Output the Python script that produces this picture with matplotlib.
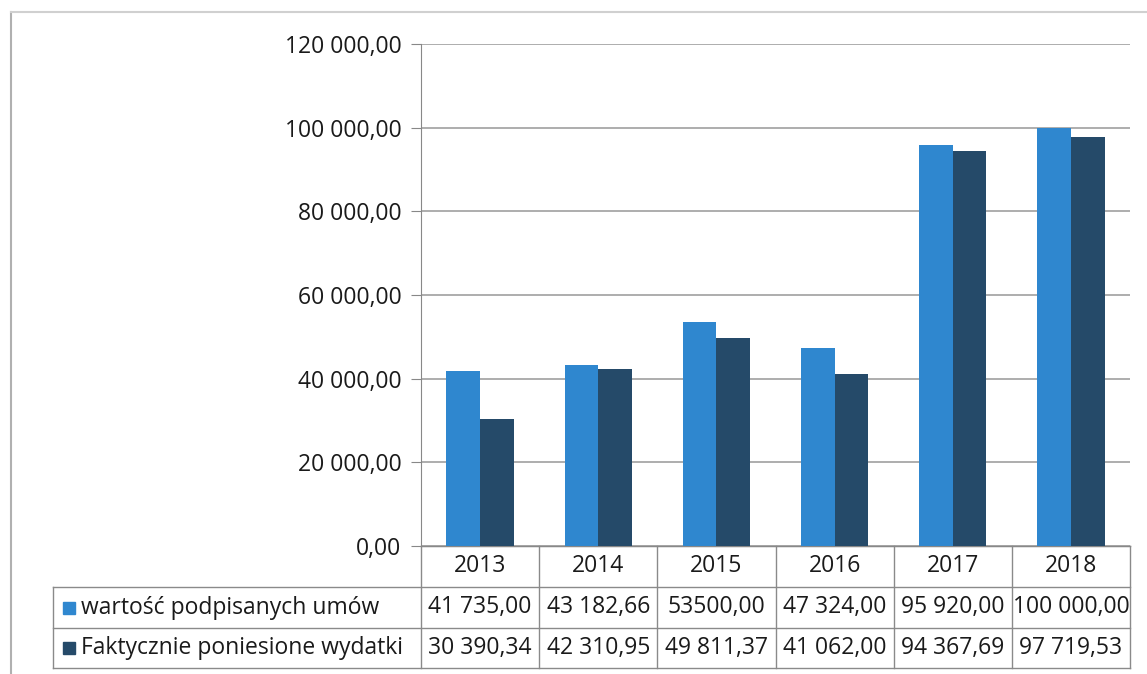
import matplotlib
matplotlib.use("Agg")
import matplotlib.pyplot as plt
from matplotlib.patches import Rectangle
from matplotlib.lines import Line2D

years = ["2013", "2014", "2015", "2016", "2017", "2018"]
signed = [41735.00, 43182.66, 53500.00, 47324.00, 95920.00, 100000.00]
spent = [30390.34, 42310.95, 49811.37, 41062.00, 94367.69, 97719.53]
signed_labels = ["41 735,00", "43 182,66", "53500,00", "47 324,00", "95 920,00", "100 000,00"]
spent_labels = ["30 390,34", "42 310,95", "49 811,37", "41 062,00", "94 367,69", "97 719,53"]
series_names = ["wartość podpisanych umów", "Faktycznie poniesione wydatki"]
yticks = [0, 20000, 40000, 60000, 80000, 100000, 120000]
ytick_labels = ["0,00", "20 000,00", "40 000,00", "60 000,00", "80 000,00", "100 000,00", "120 000,00"]

c_blue = "#2f87cf"
c_dark = "#254a69"
grid_c = "#a0a0a0"
txt_c = "#1a1a1a"
font = ["Open Sans", "DejaVu Sans"]
plt.rcParams['font.family'] = font

W, H = 1147, 674
fig = plt.figure(figsize=(W / 100, H / 100), dpi=100)
x0, x1, ytop, ybot = 421, 1130, 44, 546
ax = fig.add_axes([x0 / W, 1 - ybot / H, (x1 - x0) / W, (ybot - ytop) / H])

n = len(years)
bw = 0.285
xs = list(range(n))
ax.bar([x - bw / 2 for x in xs], signed, width=bw, color=c_blue, zorder=3)
ax.bar([x + bw / 2 for x in xs], spent, width=bw, color=c_dark, zorder=3)

ax.set_xlim(-0.5, n - 0.5)
ax.set_ylim(0, 120000)
ax.set_yticks(yticks)
ax.set_yticklabels(ytick_labels, fontsize=16.5, color=txt_c)
ax.set_xticks([])
ax.yaxis.grid(True, color=grid_c, linewidth=1.2, zorder=0)
ax.set_axisbelow(True)
for s in ["top", "right"]:
    ax.spines[s].set_visible(False)
ax.spines["left"].set_color("#888888")
ax.spines["bottom"].set_color("#888888")
ax.tick_params(axis="y", length=7, color="#888888", pad=7)

ah = ybot - ytop
aw = x1 - x0
rows_px = [546, 587, 628, 668]
def fy(py):
    return (ybot - py) / ah
def fx(px):
    return (px - x0) / aw

lc = "#8a8a8a"
lw = 1.0
tr = ax.transAxes
ax.add_line(Line2D([fx(x0), fx(x1)], [fy(rows_px[0])] * 2, transform=tr, color=lc, lw=lw, clip_on=False))
for r in rows_px[1:]:
    ax.add_line(Line2D([fx(53), fx(x1)], [fy(r)] * 2, transform=tr, color=lc, lw=lw, clip_on=False))
ax.add_line(Line2D([fx(53), fx(53)], [fy(rows_px[1]), fy(rows_px[3])], transform=tr, color=lc, lw=lw, clip_on=False))
for i in range(n + 1):
    xf = i / n
    ax.add_line(Line2D([xf, xf], [fy(rows_px[0]), fy(rows_px[3])], transform=tr, color=lc, lw=lw, clip_on=False))

fs = 16.5
for i, yr in enumerate(years):
    xc = (i + 0.5) / n
    ax.text(xc, fy((rows_px[0] + rows_px[1]) / 2), yr, transform=tr, ha="center", va="center",
            fontsize=fs, color=txt_c, clip_on=False)
    ax.text(xc, fy((rows_px[1] + rows_px[2]) / 2), signed_labels[i], transform=tr, ha="center", va="center",
            fontsize=fs, color=txt_c, clip_on=False)
    ax.text(xc, fy((rows_px[2] + rows_px[3]) / 2), spent_labels[i], transform=tr, ha="center", va="center",
            fontsize=fs, color=txt_c, clip_on=False)

for k, (name, col) in enumerate(zip(series_names, [c_blue, c_dark])):
    ym = (rows_px[1 + k] + rows_px[2 + k]) / 2
    sq = 12
    fig.add_artist(Rectangle((63 / W, 1 - (ym + sq / 2) / H), sq / W, sq / H, transform=fig.transFigure,
                             color=col))
    fig.text(81 / W, 1 - ym / H, name, ha="left", va="center", fontsize=fs, color=txt_c)

fig.add_artist(Line2D([11 / W, 11 / W], [0, 1 - 12 / H], transform=fig.transFigure, color="#b0b0b0", lw=1.5))
fig.add_artist(Line2D([11 / W, 1], [1 - 12 / H, 1 - 12 / H], transform=fig.transFigure, color="#d0d0d0", lw=1.5))

fig.savefig("out.png", dpi=100)
